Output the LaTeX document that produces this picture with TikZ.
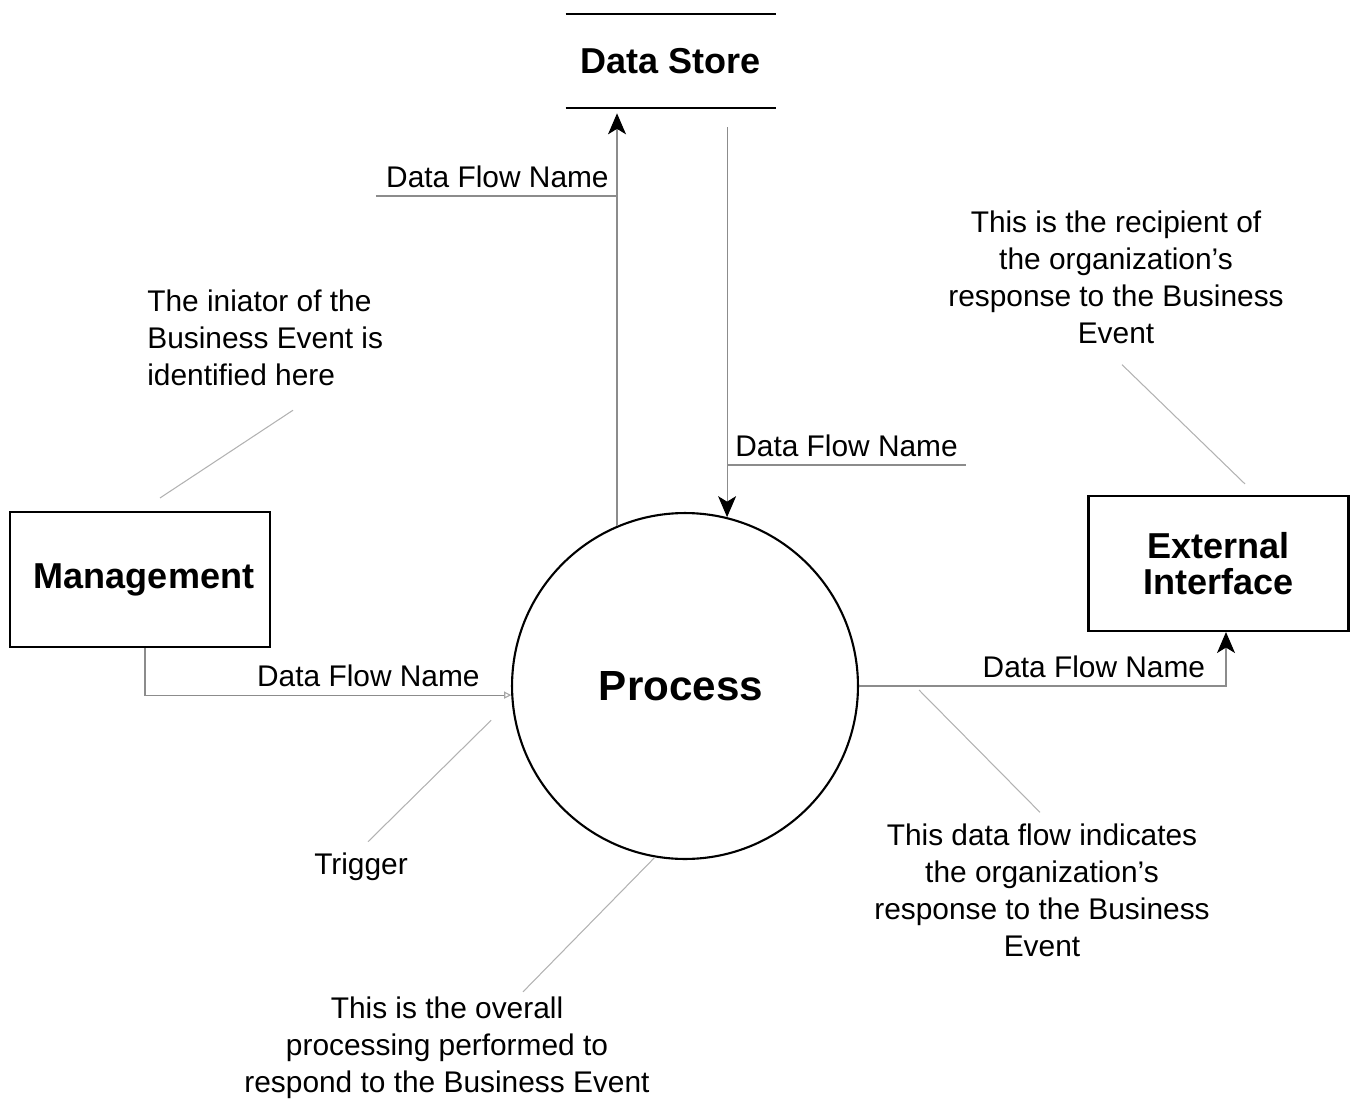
\documentclass[tikz,border=0pt]{standalone}
\usepackage{fontspec}
\setmainfont{Liberation Sans}
\usetikzlibrary{arrows.meta, positioning, calc}

\begin{document}
\begin{tikzpicture}[
  x=0.02cm, y=-0.02cm,
  entity/.style={rectangle, draw, line width=1.2pt, minimum width=5.2cm, minimum height=2.7cm, align=center, font=\fontsize{20.5}{20.5}\selectfont\bfseries},
  store/.style={rectangle, minimum width=4.2cm, minimum height=1.88cm, font=\fontsize{20.5}{20.5}\selectfont\bfseries},
  proc/.style={circle, draw, line width=1.2pt, minimum size=6.92cm, inner sep=0pt, font=\fontsize{24}{24}\selectfont\bfseries},
  note/.style={inner sep=0pt, align=center, font=\fontsize{17}{21}\selectfont},
  lbl/.style={inner xsep=0pt, inner ysep=0.16cm, font=\fontsize{17}{21}\selectfont},
  flow/.style={draw=black!45, line width=0.6pt},
  arr/.style={flow, -{Stealth[length=0.42cm, width=0.36cm, inset=0.11cm, black]}},
  trig/.style={flow, -{Triangle[open, length=0.14cm, width=0.14cm, black!35]}},
  lead/.style={draw=black!30, line width=0.6pt},
]
\useasboundingbox (0,0) rectangle (1353,1099);

% === Main shapes ===
\node[store] (ds) at (671,61) {Data Store};
\draw[line width=1.3pt] (ds.north west) -- (ds.north east);
\draw[line width=1.3pt] (ds.south west) -- (ds.south east);
\node[entity] (mgmt) at (140,579.5) {\hspace*{0.16cm}Management};
\node[entity] (ext) at (1218.5,563.5) {External\\Interface};
\node[proc] (pr) at (685,686) {\hspace*{-0.16cm}Process};

% === Data flows ===
% Process -> Data Store
\draw[arr, shorten >=0.1cm] (pr.113.5) -- (pr.113.5 |- ds.south);
\node[lbl, anchor=south east] (dfn1) at (609,196) {Data Flow Name};
\draw[flow] ([xshift=-0.2cm]dfn1.south west) -- (dfn1.south -| pr.113.5);

% Data Store -> Process
\draw[arr, shorten <=0.38cm] (pr.76.3 |- ds.south) -- (pr.76.3);
\node[lbl, anchor=south west] (dfn2) at (735,465) {Data Flow Name};
\draw[flow] (dfn2.south -| pr.76.3) -- ([xshift=0.16cm]dfn2.south east);

% Management -> Process (trigger)
\draw[trig] ([xshift=0.1cm]mgmt.south) |- node[pos=0.805, lbl, above] (dfn3) {Data Flow Name} (pr.183);

% Process -> External Interface
\draw[arr] (pr.east) -| node[pos=0.32, lbl, above] (dfn4) {Data Flow Name} ([xshift=0.15cm]ext.south);

% === Notes ===
\node[note, align=left, anchor=west] (init) at (147,338) {The iniator of the\\Business Event is\\identified here};
\node[note] (recip) at (1116,277) {This is the recipient of\\the organization’s\\response to the Business\\Event};
\node[note] (trg) at (361,867) {Trigger};
\node[note] (resp) at (1042,890) {This data flow indicates\\the organization’s\\response to the Business\\Event};
\node[note] (overall) at (447,1048) {This is the overall\\processing performed to\\respond to the Business Event};

% === Leader lines ===
\draw[lead] ([shift={(20,-13)}]mgmt.north) -- ([shift={(146,24)}]init.south west);
\draw[lead] ([shift={(26.5,-11)}]ext.north) -- ([shift={(6,21)}]recip.south);
\draw[lead] ([shift={(7,-11)}]trg.north) -- ([shift={(-23,1)}]pr.191);
\draw[lead] ([shift={(60,4)}]pr.east) -- ([shift={(-2,-11)}]resp.north);
\draw[lead] (pr.260) -- ([shift={(76,-5)}]overall.north);
\end{tikzpicture}
\end{document}
